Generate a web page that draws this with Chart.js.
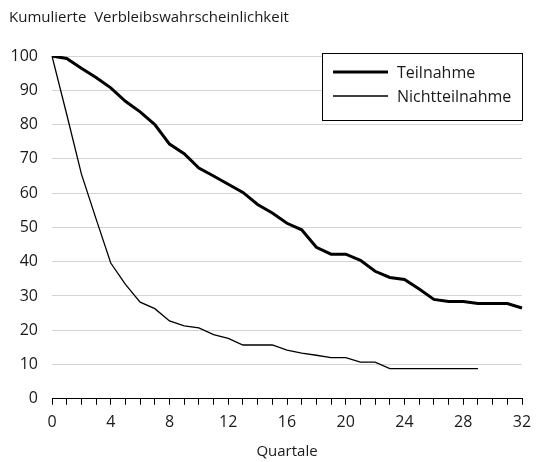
<!DOCTYPE html>
<html>
<head>
<meta charset="utf-8">
<script src="https://cdn.jsdelivr.net/npm/chart.js@4"></script>
<style>
  html, body { margin: 0; padding: 0; background: #fff; }
  #wrap { width: 536px; height: 462px; }
</style>
</head>
<body>
<div id="wrap"><canvas id="chart" width="536" height="462"></canvas></div>
<script>
const quarters = [0, 1, 2, 3, 4, 5, 6, 7, 8, 9, 10, 11, 12, 13, 14, 15, 16,
    17, 18, 19, 20, 21, 22, 23, 24, 25, 26, 27, 28, 29, 30, 31, 32];

const teilnahme = [100, 99.3, 96.4, 93.7, 90.7, 86.8, 83.7, 80.0, 74.3, 71.5, 67.3,
    65.0, 62.6, 60.2, 56.7, 54.2, 51.2, 49.3, 44.2, 42.2, 42.2, 40.4, 37.2, 35.4,
    34.8, 32.0, 29.0, 28.4, 28.4, 27.8, 27.8, 27.8, 26.5];

const nichtteilnahme = [100, 83.0, 65.6, 52.5, 39.6, 33.4, 28.2, 26.3, 22.7, 21.3, 20.7,
    18.7, 17.6, 15.7, 15.7, 15.7, 14.2, 13.3, 12.7, 12.0, 12.0, 10.7, 10.7, 8.8,
    8.8, 8.8, 8.8, 8.8, 8.8, 8.8, null, null, null];

const FONT = "'Open Sans', 'DejaVu Sans', sans-serif";
const TEXT = '#1a1a1a';

// legend drawn as a boxed panel inside the plot, top right
const boxLegend = {
    id: 'boxLegend',
    afterDraw (chart) {
        const ctx = chart.ctx;
        const area = chart.chartArea;
        const w = 201, h = 68;
        const x = area.right + 1 - w;
        const y = area.top - 3;
        ctx.save();
        ctx.fillStyle = '#fff';
        ctx.fillRect(x, y, w, h);
        ctx.strokeStyle = '#000';
        ctx.lineWidth = 1;
        ctx.strokeRect(x + 0.5, y + 0.5, w - 1, h - 1);
        ctx.font = `16px ${FONT}`;
        ctx.textBaseline = 'middle';
        ctx.fillStyle = TEXT;
        chart.data.datasets.forEach((ds, i) => {
            const ly = y + 19 + i * 24;
            ctx.beginPath();
            ctx.strokeStyle = ds.borderColor;
            ctx.lineWidth = ds.borderWidth;
            ctx.moveTo(x + 11, ly);
            ctx.lineTo(x + 66, ly);
            ctx.stroke();
            ctx.fillText(ds.label, x + 75, ly + 1);
        });
        ctx.restore();
    }
};

const ctx = document.getElementById('chart').getContext('2d');
new Chart(ctx, {
    type: 'line',
    data: {
        labels: quarters,
        datasets: [{
            label: 'Teilnahme',
            data: teilnahme,
            borderColor: '#000',
            borderWidth: 3,
            pointRadius: 0,
            tension: 0
        }, {
            label: 'Nichtteilnahme',
            data: nichtteilnahme,
            borderColor: '#000',
            borderWidth: 1.3,
            pointRadius: 0,
            tension: 0,
            spanGaps: false
        }]
    },
    options: {
        responsive: false,
        animation: false,
        layout: {
            padding: { left: 9, right: 14, top: 0, bottom: 0 }
        },
        plugins: {
            legend: { display: false },
            tooltip: { enabled: false },
            title: {
                display: true,
                text: 'Kumulierte  Verbleibswahrscheinlichkeit',
                align: 'start',
                color: TEXT,
                font: { family: FONT, size: 15, weight: 'normal' },
                padding: { top: 9, bottom: 29 }
            }
        },
        scales: {
            x: {
                type: 'category',
                offset: false,
                border: { display: true, color: '#000', width: 1 },
                grid: {
                    drawOnChartArea: false,
                    drawTicks: true,
                    tickLength: 6,
                    tickColor: '#000'
                },
                ticks: {
                    autoSkip: false,
                    maxRotation: 0,
                    padding: 8,
                    color: TEXT,
                    font: { family: FONT, size: 16 },
                    callback: (val, i) => (i % 4 === 0 ? quarters[i] : '')
                },
                title: {
                    display: true,
                    text: 'Quartale',
                    color: TEXT,
                    font: { family: FONT, size: 15 },
                    padding: { top: 3, bottom: 1 }
                },
                afterFit (scale) {
                    scale.paddingRight = 0;
                }
            },
            y: {
                min: 0,
                max: 100,
                border: { display: false },
                grid: {
                    drawTicks: false,
                    lineWidth: 1,
                    color: (c) => (c.tick && c.tick.value === 0 ? 'rgba(0,0,0,0)' : '#d4d4d4')
                },
                ticks: {
                    stepSize: 10,
                    padding: 14,
                    color: TEXT,
                    font: { family: FONT, size: 16 }
                },
                afterFit (scale) {
                    scale.width = 43;
                }
            }
        }
    },
    plugins: [boxLegend]
});
</script>
</body>
</html>
